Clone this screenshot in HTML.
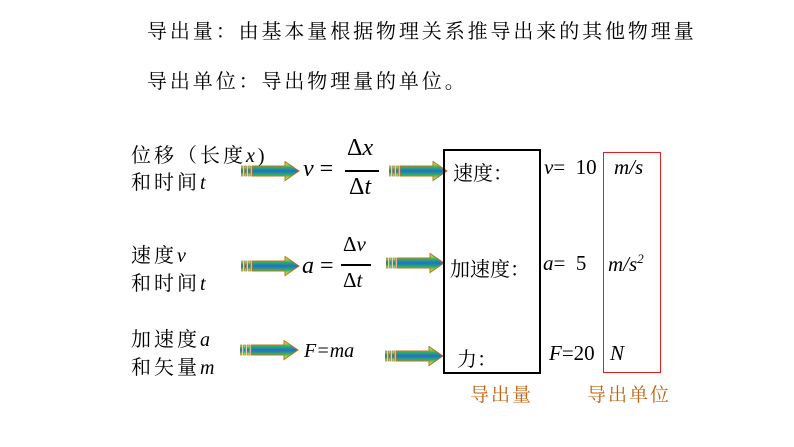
<!DOCTYPE html>
<html><head><meta charset="utf-8"><style>
body{margin:0;width:794px;height:447px;background:#fff;position:relative;overflow:hidden;font-family:"Liberation Serif","Noto Serif CJK SC",serif;}
.a{position:absolute;white-space:nowrap;color:#000;}
.cn{font-family:"Liberation Serif","Noto Serif CJK SC",serif;font-size:19px;}
.lb{font-size:20px;letter-spacing:3px;}
.i{font-style:italic;font-family:"Liberation Serif",serif;}
.m{font-size:24px;}
.line{position:absolute;height:1.5px;background:#000;}
svg.ar{position:absolute;}
</style></head><body>
<svg width="0" height="0" style="position:absolute"><defs>
<linearGradient id="g" x1="0" y1="0" x2="0" y2="1">
<stop offset="0" stop-color="#ffff40"/><stop offset="0.3" stop-color="#30b060"/><stop offset="0.5" stop-color="#1f6fd0"/><stop offset="0.7" stop-color="#30b060"/><stop offset="1" stop-color="#ffff40"/></linearGradient>
<g id="arr">
<rect x="0" y="5" width="2" height="10" fill="url(#g)" stroke="#8a6a30" stroke-width="0.6"/>
<rect x="3.5" y="5" width="2" height="10" fill="url(#g)" stroke="#8a6a30" stroke-width="0.6"/>
<rect x="7" y="5" width="2.5" height="10" fill="url(#g)" stroke="#8a6a30" stroke-width="0.6"/>
<path d="M11 5 H44 V0.5 L58 10 L44 19.5 V15 H11 Z" fill="url(#g)" stroke="#c07020" stroke-width="1"/>
</g></defs></svg>

<div class="a cn" style="left:147px;top:15px;font-size:20px;letter-spacing:2.9px">导出量：由基本量根据物理关系推导出来的其他物理量</div>
<div class="a cn" style="left:147px;top:65px;font-size:20px;letter-spacing:2.9px">导出单位：导出物理量的单位。</div>

<div class="a cn lb" style="left:131px;top:139px">位移（长度<span class="i">x</span>)</div>
<div class="a cn lb" style="left:131px;top:166px">和时间<span class="i">t</span></div>
<div class="a cn lb" style="left:131px;top:239px">速度<span class="i">v</span></div>
<div class="a cn lb" style="left:131px;top:267px">和时间<span class="i">t</span></div>
<div class="a cn lb" style="left:131px;top:323px">加速度<span class="i">a</span></div>
<div class="a cn lb" style="left:131px;top:351px">和矢量<span class="i">m</span></div>

<svg class="ar" style="left:241px;top:161px" width="60" height="21"><use href="#arr"/></svg>
<svg class="ar" style="left:389px;top:161px" width="60" height="21"><use href="#arr"/></svg>
<svg class="ar" style="left:241px;top:256px" width="60" height="21"><use href="#arr"/></svg>
<svg class="ar" style="left:386px;top:253px" width="60" height="21"><use href="#arr"/></svg>
<svg class="ar" style="left:240px;top:340px" width="60" height="21"><use href="#arr"/></svg>
<svg class="ar" style="left:385px;top:346px" width="60" height="21"><use href="#arr"/></svg>

<div class="a m" style="left:303px;top:156px"><span class="i">v</span> =</div>
<div class="a m" style="left:347px;top:135px">Δ<span class="i">x</span></div>
<div class="line" style="left:345px;top:170px;width:34px"></div>
<div class="a m" style="left:349px;top:174px">Δ<span class="i">t</span></div>

<div class="a m" style="left:302px;top:253px"><span class="i">a</span> =</div>
<div class="a" style="left:343px;top:232px;font-size:21px">Δ<span class="i">v</span></div>
<div class="line" style="left:341px;top:264px;width:30px"></div>
<div class="a" style="left:343px;top:268px;font-size:21px">Δ<span class="i">t</span></div>

<div class="a i" style="left:304px;top:340px;font-size:20px">F=ma</div>

<div style="position:absolute;left:443px;top:149px;width:94px;height:221px;border:2px solid #000"></div>
<div style="position:absolute;left:603px;top:152px;width:56px;height:219px;border:1.5px solid #e02020"></div>

<div class="a cn" style="left:453px;top:157px;font-size:20px">速度：</div>
<div class="a cn" style="left:450px;top:253px;font-size:20px">加速度：</div>
<div class="a cn" style="left:457px;top:343px;font-size:20px">力：</div>

<div class="a" style="left:544px;top:155px;font-size:21px"><span class="i">v</span>=&nbsp; 10</div>
<div class="a" style="left:543px;top:251px;font-size:21px"><span class="i">a</span>=&nbsp; 5</div>
<div class="a" style="left:549px;top:341px;font-size:21px"><span class="i">F</span>=20</div>

<div class="a i" style="left:614px;top:155px;font-size:21px">m/s</div>
<div class="a i" style="left:608px;top:251px;font-size:21px">m/s<sup style="font-size:13px">2</sup></div>
<div class="a i" style="left:610px;top:341px;font-size:21px">N</div>

<div class="a cn" style="left:470px;top:380px;color:#c06010;letter-spacing:2px">导出量</div>
<div class="a cn" style="left:587px;top:380px;color:#c06010;letter-spacing:2px">导出单位</div>
</body></html>
